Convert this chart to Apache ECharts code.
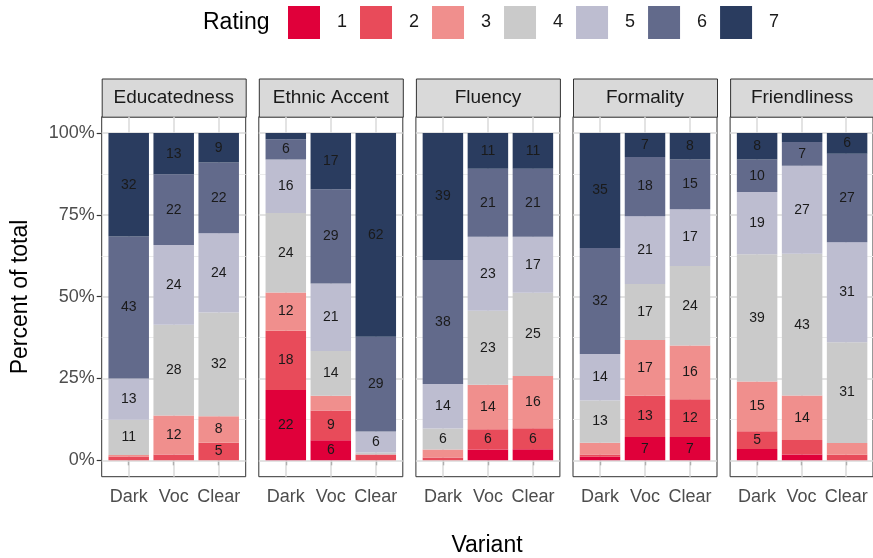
<!DOCTYPE html>
<html>
<head>
<meta charset="utf-8">
<script src="https://cdn.jsdelivr.net/npm/echarts@6/dist/echarts.min.js"></script>
<style>
  html, body { margin: 0; padding: 0; background: #fff; }
  #chart { width: 873px; height: 558px; }
</style>
</head>
<body>
<div id="chart"></div>
<script>
/* data: percent of total, rows = rating 1..7, columns = Dark, Voc, Clear */
const variants = ['Dark', 'Voc', 'Clear'];
const ratings = ['1', '2', '3', '4', '5', '6', '7'];
const facets = ['Educatedness', 'Ethnic Accent', 'Fluency', 'Formality', 'Friendliness'];
const yTicks = [0, 25, 50, 75, 100];
const yMinorTicks = [12.5, 37.5, 62.5, 87.5];

const educatedness = [
  [0, 0, 0],
  [1.2, 1.8, 5.4],
  [0.4, 11.9, 8.1],
  [10.8, 27.7, 31.7],
  [12.6, 24.4, 24.2],
  [43.4, 21.6, 21.6],
  [31.6, 12.6, 9.0]
];
const ethnicAccent = [
  [21.5, 6.1, 0],
  [18.1, 9.1, 1.8],
  [11.7, 4.5, 0],
  [24.3, 13.7, 0.6],
  [16.3, 20.6, 6.4],
  [6.2, 28.8, 29.0],
  [1.9, 17.2, 62.2]
];
const fluency = [
  [0, 3.3, 3.4],
  [0.9, 6.2, 6.4],
  [2.4, 13.6, 16.0],
  [6.4, 22.6, 25.4],
  [13.6, 22.6, 17.1],
  [37.9, 20.8, 20.8],
  [38.8, 10.9, 10.9]
];
const formality = [
  [1.1, 7.1, 7.1],
  [0.7, 12.6, 11.6],
  [3.6, 17.1, 16.4],
  [12.9, 17.1, 24.3],
  [14.2, 20.7, 17.3],
  [32.4, 18.1, 15.2],
  [35.1, 7.3, 8.1]
];
const friendliness = [
  [3.5, 1.8, 0],
  [5.4, 4.4, 1.7],
  [15.2, 13.6, 3.6],
  [38.9, 43.3, 30.8],
  [19.0, 26.9, 30.5],
  [9.9, 7.3, 27.1],
  [8.1, 2.7, 6.3]
];
const facetData = [educatedness, ethnicAccent, fluency, formality, friendliness];

/* look */
const colors = ['#e0003a', '#e84b5a', '#f08f8d', '#cacaca', '#bdbdd0', '#626a8b', '#2a3c5f'];
const fontFamily = '"Liberation Sans", Arial, sans-serif';
const panelLeft = 101.7;
const panelStep = 157.1;
const panelW = 144;
const panelTop = 116.7;
const panelH = 360;
const stripTop = 78.5;
const stripH = 38.2;
const bandInset = panelW * 0.1 / 3.2; // ggplot discrete expansion of 0.6 each side

const chart = echarts.init(document.getElementById('chart'), null, { renderer: 'canvas' });

const majorLine = { color: '#dadada', width: 1.5, type: 'solid', opacity: 1 };
const minorLine = { color: '#ebebeb', width: 1, type: 'solid', opacity: 1 };
const gridLines = [
  ...[1, 2, 3].map(x => ({ xAxis: x, lineStyle: majorLine })),
  ...yTicks.map(y => ({ yAxis: y, lineStyle: majorLine })),
  ...yMinorTicks.map(y => ({ yAxis: y, lineStyle: minorLine }))
];

const grids = [];
const xAxes = [];
const yAxes = [];
const series = [];
const graphics = [];
const n = facets.length;

facets.forEach((facet, p) => {
  const left = panelLeft + p * panelStep;
  // frame grid: panel border, ticks, labels, grid lines
  grids.push({
    left, top: panelTop, width: panelW, height: panelH,
    show: true, backgroundColor: '#fff', borderColor: '#333', borderWidth: 1
  });
  xAxes.push({
    type: 'value', gridIndex: p, min: 0.4, max: 3.6,
    axisLine: { show: false },
    splitLine: { show: false },
    axisTick: { show: true, customValues: [1, 2, 3], length: 5, lineStyle: { color: '#333', width: 1.2 } },
    axisLabel: {
      customValues: [1, 2, 3],
      formatter: v => variants[Math.round(v) - 1],
      color: '#4d4d4d', fontSize: 18, fontFamily, margin: 11
    }
  });
  yAxes.push({
    type: 'value', gridIndex: p, min: -5, max: 105,
    axisLine: { show: false },
    splitLine: { show: false },
    axisTick: { show: p === 0, customValues: yTicks, length: 5, lineStyle: { color: '#333', width: 1.2 } },
    axisLabel: {
      show: p === 0, customValues: yTicks,
      formatter: v => v + '%',
      color: '#4d4d4d', fontSize: 18, fontFamily, margin: 7
    }
  });
  // invisible carrier series for the panel grid lines
  series.push({
    type: 'line', name: 'gridlines', xAxisIndex: p, yAxisIndex: p,
    data: [[1, 50], [3, 50]], symbol: 'none', lineStyle: { width: 0 },
    markLine: {
      symbol: 'none', animation: false,
      label: { show: false },
      lineStyle: majorLine, data: gridLines
    }
  });
  // facet strip
  graphics.push({
    type: 'rect', left, top: stripTop,
    shape: { width: panelW, height: stripH },
    style: { fill: '#d9d9d9', stroke: '#333', lineWidth: 1 }
  });
  graphics.push({
    type: 'text', x: left + panelW / 2, y: stripTop + stripH / 2,
    style: { text: facet, fill: '#1a1a1a', font: '19px ' + fontFamily, textAlign: 'center', textVerticalAlign: 'middle' }
  });
});

facets.forEach((facet, p) => {
  const left = panelLeft + p * panelStep;
  // bar grid: the category bands inside the panel
  grids.push({ left: left + bandInset, top: panelTop, width: panelW - 2 * bandInset, height: panelH });
  xAxes.push({ type: 'category', gridIndex: n + p, data: variants, show: false });
  yAxes.push({ type: 'value', gridIndex: n + p, min: -5, max: 105, show: false });
  ratings.forEach((r, k) => {
    series.push({
      type: 'bar', name: r, xAxisIndex: n + p, yAxisIndex: n + p, stack: 'facet' + p,
      z: 10,
      barWidth: '90%',
      data: facetData[p][k],
      itemStyle: { color: colors[k] },
      label: {
        show: true, position: 'inside',
        formatter: prm => (prm.value >= 5 ? String(Math.round(prm.value)) : ''),
        color: '#1a1a1a', fontSize: 14, fontFamily
      }
    });
  });
});

graphics.push({
  type: 'text', x: 203, y: 23,
  style: { text: 'Rating', fill: '#000', font: '23px ' + fontFamily, textAlign: 'left', textVerticalAlign: 'middle' }
});
graphics.push({
  type: 'text', x: 21, y: 297, rotation: Math.PI / 2,
  style: { text: 'Percent of total', fill: '#000', font: '23px ' + fontFamily, textAlign: 'center', textVerticalAlign: 'middle' }
});
graphics.push({
  type: 'text', x: 487, y: 546,
  style: { text: 'Variant', fill: '#000', font: '23px ' + fontFamily, textAlign: 'center', textVerticalAlign: 'middle' }
});

chart.setOption({
  animation: false,
  legend: {
    data: ratings,
    left: 288, top: 6, padding: 0,
    itemWidth: 32, itemHeight: 33, itemGap: 13,
    icon: 'rect',
    selectedMode: false,
    textStyle: { color: '#1a1a1a', fontSize: 18, fontFamily, padding: [0, 0, 0, 12] }
  },
  grid: grids,
  xAxis: xAxes,
  yAxis: yAxes,
  series,
  graphic: graphics
});
</script>
</body>
</html>
